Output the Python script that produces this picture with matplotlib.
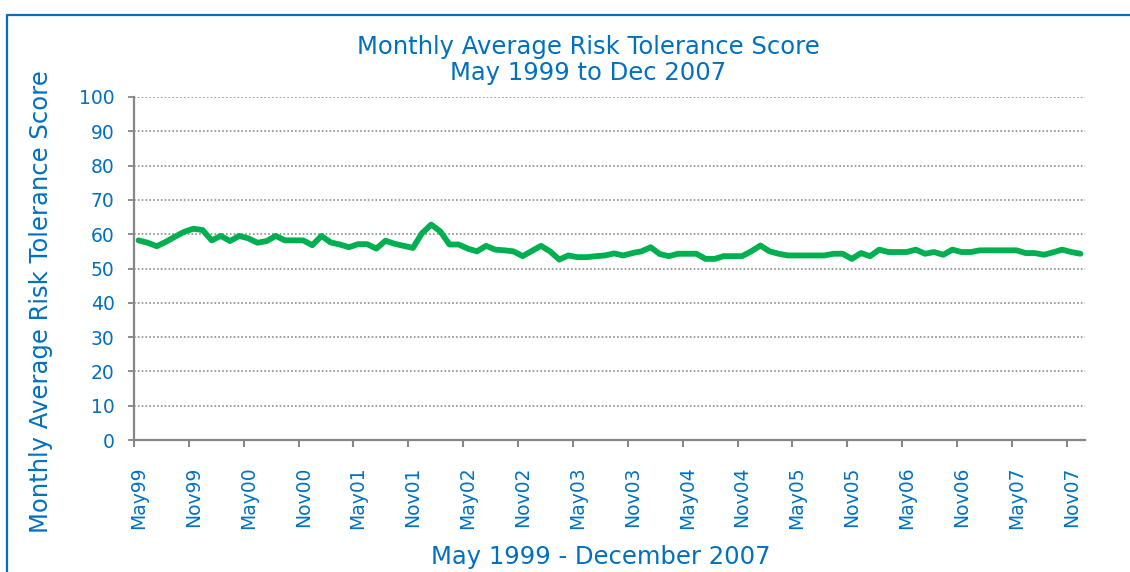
import matplotlib
matplotlib.use("Agg")
import matplotlib.pyplot as plt
from matplotlib.lines import Line2D

months = ["May", "Jun", "Jul", "Aug", "Sep", "Oct", "Nov", "Dec", "Jan", "Feb", "Mar", "Apr"]
categories = []
m, y = 0, 1999
for _ in range(104):
    categories.append(f"{months[m]}{str(y)[2:]}")
    m = (m + 1) % 12
    if m == 8:
        y += 1

scores = [
    58.2, 57.5, 56.5, 57.8, 59.3, 60.7, 61.6, 61.2, 58.2, 59.5,
    58.0, 59.5, 58.8, 57.5, 58.0, 59.5, 58.2, 58.2, 58.2, 56.8,
    59.5, 57.6, 57.0, 56.2, 57.1, 57.1, 55.8, 58.1, 57.2, 56.6,
    56.0, 60.3, 62.8, 60.8, 57.0, 57.0, 55.8, 55.0, 56.6, 55.5,
    55.3, 55.0, 53.6, 55.1, 56.6, 55.0, 52.6, 53.8, 53.3, 53.3,
    53.6, 53.8, 54.4, 53.8, 54.5, 55.0, 56.2, 54.2, 53.6, 54.3,
    54.3, 54.3, 52.8, 52.8, 53.6, 53.6, 53.6, 55.0, 56.7, 55.0,
    54.3, 53.8, 53.8, 53.8, 53.8, 53.8, 54.3, 54.3, 52.8, 54.5,
    53.6, 55.5, 54.8, 54.8, 54.8, 55.5, 54.3, 54.8, 54.0, 55.5,
    54.8, 54.8, 55.3, 55.3, 55.3, 55.3, 55.3, 54.5, 54.5, 54.0,
    54.7, 55.5, 54.8, 54.3,
]

yticks = list(range(0, 101, 10))
title = "Monthly Average Risk Tolerance Score\nMay 1999 to Dec 2007"
xlabel = "May 1999 - December 2007"
ylabel = "Monthly Average Risk Tolerance Score"

BLUE = "#0070C0"
GREEN = "#00B050"
GRAY = "#868686"

plt.rcParams["font.family"] = ["DejaVu Sans"]

W, H = 1130, 572
fig = plt.figure(figsize=(W / 100, H / 100), dpi=100)
ax = fig.add_axes([134 / W, 1 - 440 / H, 951 / W, 343 / H])

x = list(range(len(scores)))
ax.plot(x, scores, color=GREEN, lw=4.2, solid_joinstyle="round", solid_capstyle="round", zorder=3)

ax.set_xlim(-0.5, len(scores) - 0.5)
ax.set_ylim(0, 100)

ax.set_yticks(yticks)
ax.set_yticklabels([str(v) for v in yticks])
for v in yticks[1:]:
    ax.axhline(v, color="#8C8C8C", lw=1.2, ls=(0, (1, 1.3)), zorder=1)

major = [i - 0.5 for i in range(0, len(scores), 6)]
ax.set_xticks(major)
ax.set_xticklabels([""] * len(major))
label_pos = list(range(0, len(scores), 6))
ax.set_xticks(label_pos, minor=True)
ax.set_xticklabels([categories[i] for i in label_pos], minor=True, rotation=90,
                   fontsize=13.5, color=BLUE)
ax.tick_params(axis="x", which="minor", length=0, pad=19)
ax.tick_params(axis="x", which="major", length=5, width=1.5, color=GRAY)
ax.tick_params(axis="y", length=4, width=1.3, color=GRAY, labelsize=13.5,
               labelcolor=BLUE, pad=10)

for s in ["top", "right"]:
    ax.spines[s].set_visible(False)
for s in ["left", "bottom"]:
    ax.spines[s].set_color(GRAY)
    ax.spines[s].set_linewidth(1.6)

fig.text(588 / W, 1 - 60 / H, title, ha="center", va="center", fontsize=17.5,
         color=BLUE, linespacing=1.12)
fig.text(41 / W, 1 - 302 / H, ylabel, rotation=90, ha="center", va="center",
         fontsize=17.5, color=BLUE)
fig.text(601 / W, 1 - 557 / H, xlabel, ha="center", va="center", fontsize=17.5,
         color=BLUE)

# outer chart border (top and left edges visible)
fig.add_artist(Line2D([7 / W, 7 / W, 1.0], [0.0, 1 - 15 / H, 1 - 15 / H],
                      transform=fig.transFigure, color=BLUE, lw=1.6))

fig.savefig("out.png", dpi=100)
